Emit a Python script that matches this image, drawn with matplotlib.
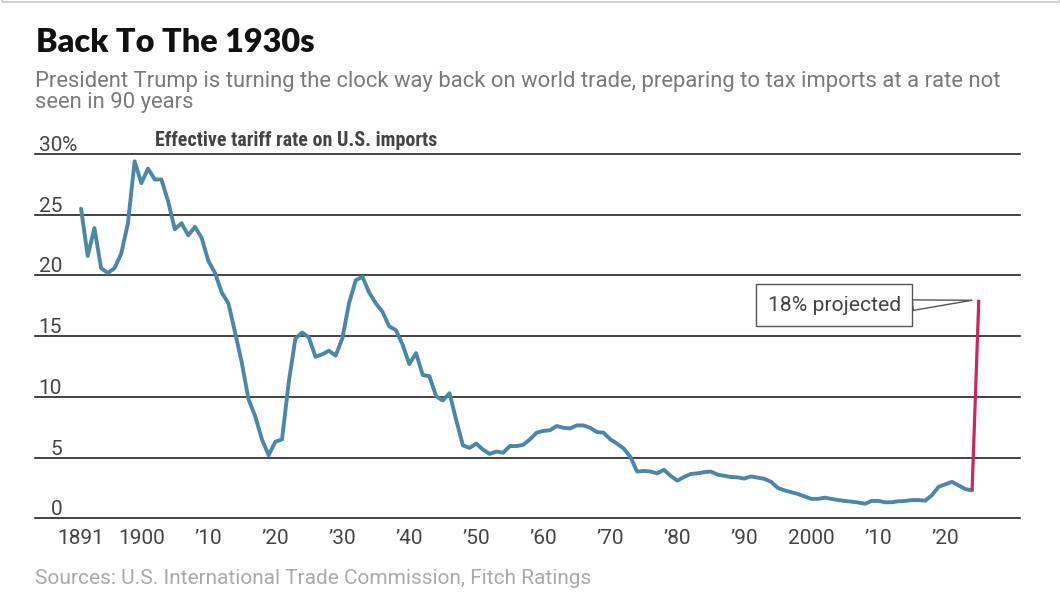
import matplotlib
matplotlib.use("Agg")
import matplotlib.pyplot as plt
from matplotlib.transforms import blended_transform_factory
from matplotlib.patches import Rectangle

# ---------------- data ----------------
start_year = 1891
tariff = [
    25.5, 21.6, 23.9, 20.6, 20.2, 20.6, 21.8, 24.3, 29.4,            # 1891-1899
    27.6, 28.8, 27.9, 27.9, 26.1, 23.8, 24.3, 23.3, 24.0, 23.1,      # 1900-1909
    21.2, 20.2, 18.6, 17.7, 15.3, 12.8, 9.8, 8.4, 6.5, 5.2,          # 1910-1919
    6.3, 6.5, 11.2, 14.8, 15.3, 14.9, 13.3, 13.5, 13.8, 13.4,        # 1920-1929
    14.8, 17.7, 19.6, 19.9, 18.6, 17.7, 17.0, 15.8, 15.5, 14.3,      # 1930-1939
    12.7, 13.6, 11.8, 11.7, 10.05, 9.7, 10.3, 8.1, 6.0, 5.8,         # 1940-1949
    6.15, 5.65, 5.3, 5.5, 5.4, 5.95, 5.95, 6.05, 6.5, 7.05,          # 1950-1959
    7.2, 7.25, 7.6, 7.45, 7.4, 7.65, 7.65, 7.45, 7.1, 7.05,          # 1960-1969
    6.5, 6.15, 5.75, 5.05, 3.85, 3.9, 3.85, 3.7, 4.0, 3.5,           # 1970-1979
    3.1, 3.4, 3.65, 3.7, 3.8, 3.85, 3.6, 3.5, 3.4, 3.37,             # 1980-1989
    3.27, 3.45, 3.35, 3.25, 3.0, 2.5, 2.3, 2.15, 2.0, 1.8,           # 1990-1999
    1.6, 1.6, 1.7, 1.6, 1.5, 1.43, 1.37, 1.3, 1.2, 1.43,             # 2000-2009
    1.43, 1.32, 1.32, 1.4, 1.43, 1.5, 1.5, 1.45, 1.9, 2.6,           # 2010-2019
    2.8, 3.0, 2.7, 2.4, 2.3,                                          # 2020-2024
]
years = list(range(start_year, start_year + len(tariff)))

proj_years = [2024, 2025]
proj_values = [2.3, 18.0]

xtick_pos = [1891, 1900, 1910, 1920, 1930, 1940, 1950, 1960, 1970, 1980,
             1990, 2000, 2010, 2020]
xtick_labels = ["1891", "1900", "\u201910", "\u201920", "\u201930", "\u201940",
                "\u201950", "\u201960", "\u201970", "\u201980", "\u201990",
                "2000", "\u201910", "\u201920"]
ytick_pos = [0, 5, 10, 15, 20, 25, 30]
ytick_labels = ["0", "5", "10", "15", "20", "25", "30"]

title = "Back To The 1930s"
subtitle1 = "President Trump is turning the clock way back on world trade, preparing to tax imports at a rate not"
subtitle2 = "seen in 90 years"
axis_label = "Effective tariff rate on U.S. imports"
note = "18% projected"
source = "Sources: U.S. International Trade Commission, Fitch Ratings"

# ---------------- figure ----------------
W, H = 1060, 599
fig = plt.figure(figsize=(W / 100, H / 100), dpi=100)
fig.patch.set_facecolor("white")

def fx(px):
    return px / W

def fy(py):
    return 1 - py / H

ax_left, ax_right, ax_top, ax_bottom = 35, 1020, 154, 518.3
ax = fig.add_axes([fx(ax_left), fy(ax_bottom), fx(ax_right - ax_left),
                   (ax_bottom - ax_top) / H])
ax.set_xlim(1884.13, 2031.15)
ax.set_ylim(0, 30)
for s in ax.spines.values():
    s.set_visible(False)
ax.set_yticks([])
ax.set_xticks(xtick_pos)
ax.set_xticklabels(xtick_labels, fontsize=15, family="Roboto", color="#444444")
ax.tick_params(axis="x", length=0, pad=8)

# gridlines
for v in ytick_pos:
    ax.axhline(v, color="#1a1a1a", lw=1.15, zorder=1, clip_on=False)

# y labels above gridlines
trans = blended_transform_factory(ax.transAxes, ax.transData)
xr = (62 - ax_left) / (ax_right - ax_left)
for v, lab in zip(ytick_pos, ytick_labels):
    ax.annotate(lab, xy=(xr, v), xycoords=trans, xytext=(0, 3),
                textcoords="offset pixels", ha="right", va="baseline",
                fontsize=15, family="Roboto", color="#444444")
ax.annotate("%", xy=(xr, ytick_pos[-1]), xycoords=trans, xytext=(0, 3),
            textcoords="offset pixels", ha="left", va="baseline",
            fontsize=15, family="Roboto", color="#444444")

# lines
ax.plot(years, tariff, color="#4a88a8", lw=2.8, solid_joinstyle="round",
        solid_capstyle="round", zorder=3)
ax.plot(proj_years, proj_values, color="#cc2560", lw=2.3, zorder=4,
        solid_capstyle="butt")

# callout
ax.annotate(note, xy=(proj_years[-1], proj_values[-1]),
            xytext=(2003.4, 17.55), textcoords="data",
            ha="center", va="center", fontsize=15.2, family="Roboto",
            color="#444444", zorder=6,
            bbox=dict(boxstyle="square,pad=0.55", fc="white", ec="#555555", lw=1.0),
            arrowprops=dict(arrowstyle="wedge,tail_width=0.5,shrink_factor=0.5",
                            fc="white", ec="#555555", lw=1.0,
                            relpos=(1.0, 0.45), shrinkA=0, shrinkB=5))

# texts
fig.text(fx(36), fy(51.5), title, fontsize=23.3, family="Lato", weight="heavy",
         color="#111111", va="baseline", ha="left")
fig.text(fx(35), fy(87.5), subtitle1, fontsize=15.8, family="Roboto",
         color="#7a7a7a", va="baseline", ha="left")
fig.text(fx(35), fy(108), subtitle2, fontsize=15.8, family="Roboto",
         color="#7a7a7a", va="baseline", ha="left")
fig.text(fx(155), fy(145.7), axis_label, fontsize=14.4,
         family=["Roboto Condensed", "Roboto"], weight="bold",
         color="#444444", va="baseline", ha="left")
fig.text(fx(35), fy(584.5), source, fontsize=15.0, family="Roboto",
         color="#aaaaaa", va="baseline", ha="left")

# outer frame
fig.patches.append(Rectangle((fx(1.5), 1 - fy(H - 1.5)), fx(W - 3), (H - 3) / H,
                             transform=fig.transFigure, fill=False,
                             ec="#c8c8c8", lw=1.2))

fig.savefig("out.png", dpi=100, facecolor="white")
